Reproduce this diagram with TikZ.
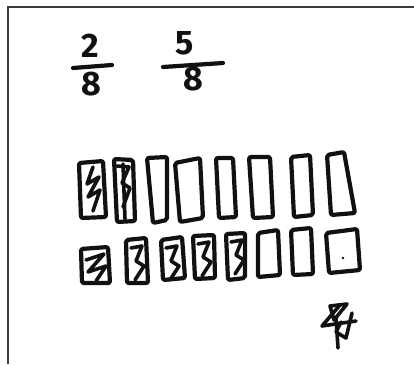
\documentclass[tikz,border=0pt]{standalone}
\usepackage{fontspec}
\setsansfont{Fira Sans}
\usepackage{tikz}
\definecolor{inkblack}{HTML}{111111}
\definecolor{framegray}{HTML}{3C3C3C}
\tikzset{
  ink/.style={inkblack,line width=4.2pt,line join=round,line cap=round},
  fill-in/.style={inkblack,line width=3.6pt,line join=round,line cap=round},
  digit/.style={inkblack,font=\sffamily\fontsize{34}{34}\selectfont\bfseries,inner sep=0pt}
}
\begin{document}
\begin{tikzpicture}[x=1pt,y=-1pt]
    \useasboundingbox (0,0) rectangle (414,364);
    \fill[white] (0,0) rectangle (414,364);
    \draw[framegray,line width=2pt] (8,364) -- (8,7) -- (414,7);
    \node[digit] (num-a) at (90,46) {2};
    \node[digit] (den-a) at (91,84) {8};
    \node[digit] (num-b) at (185,43) {5};
    \node[digit] (den-b) at (193,79) {8};
    \draw[ink] (73,68) -- (112,65);
    \draw[ink] (163,67) -- (223,63);
    \foreach \a/\b/\c/\d in {
        {(79,163)}/{(103,161)}/{(106,217)}/{(81,218)},
        {(114,159)}/{(133,160)}/{(135,221)}/{(117,222)},
        {(147,158)}/{(167,157)}/{(167,220)}/{(153,223)},
        {(175,163)}/{(200,158)}/{(203,218)}/{(180,222)},
        {(216,158)}/{(233,158)}/{(236,217)}/{(219,218)},
        {(249,157)}/{(270,157)}/{(273,217)}/{(253,218)},
        {(291,157)}/{(310,155)}/{(313,215)}/{(294,217)},
        {(327,155)}/{(344,152)}/{(355,213)}/{(331,215)},
        {(81,249)}/{(108,247)}/{(110,283)}/{(82,283)},
        {(126,240)}/{(146,238)}/{(148,283)}/{(127,283)},
        {(161,240)}/{(182,237)}/{(185,278)}/{(163,280)},
        {(193,236)}/{(214,235)}/{(215,278)}/{(195,279)},
        {(226,234)}/{(245,233)}/{(245,278)}/{(228,280)},
        {(258,233)}/{(278,230)}/{(280,275)}/{(258,277)},
        {(291,230)}/{(311,228)}/{(313,274)}/{(293,275)},
        {(326,233)}/{(357,229)}/{(360,270)}/{(329,273)}} {
      \draw[ink,rounded corners=2pt] \a -- \b -- \c -- \d -- cycle;
    }
    \draw[fill-in] (93,167) -- (87,184) -- (99,177) -- (88,197) -- (100,190) -- (93,211);
    \draw[fill-in] (123,164) -- (125,219);
    \draw[fill-in] (117,166) -- (129,167) -- (122,183) -- (130,188) -- (123,207);
    \draw[fill-in] (86,260) -- (104,254) -- (88,272) -- (106,266) -- (96,281);
    \foreach \dx/\dy in {131/246,166/246,198/242,231/240} {
      \draw[fill-in,shift={(\dx,\dy)}] (0,2) -- (11,0) -- (5,15) -- (13,20) -- (4,34);
    }
    \fill[inkblack] (343,258) circle (1.4pt);
    \draw[fill-in] (330,306) -- (347,304) -- (334,320) -- cycle;
    \draw[fill-in] (340,305) -- (322,326) -- (356,321);
    \draw[fill-in] (352,313) -- (346,338) -- (336,332) -- (341,322);
    \draw[fill-in] (336,318) -- (338,348);
  \end{tikzpicture}
\end{document}
